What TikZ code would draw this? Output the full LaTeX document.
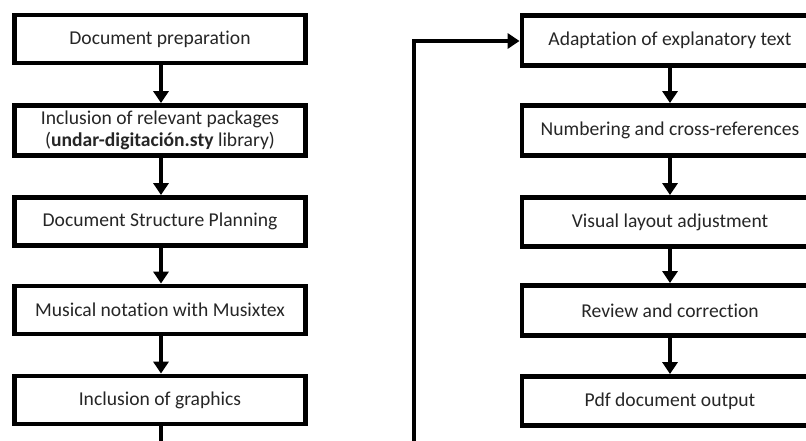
\documentclass[tikz,border=0pt]{standalone}
\usepackage{fontspec}
\setmainfont{Carlito}[Ligatures=NoCommon]
\usetikzlibrary{arrows.meta}
\begin{document}
\begin{tikzpicture}[x=1pt,y=-1pt,
  stepbox/.style={draw=black,line width=4.8pt,fill=white,minimum height=48pt,
    inner sep=0pt,align=center,font=\fontsize{19.6}{22}\selectfont,text=black!85},
  leftbox/.style={stepbox,minimum width=291pt},
  rightbox/.style={stepbox,minimum width=296pt},
  flow/.style={line width=4.5pt,-{Triangle[width=15pt,length=12pt]}}]
\useasboundingbox (0,0) rectangle (806,441);
\node[leftbox] (l1) at (160,39) {Document preparation};
\node[leftbox,minimum height=50pt] (l2) at (160,130.5) {Inclusion of relevant packages\\(\textbf{undar-digitación.sty} library)};
\node[leftbox] (l3) at (160,221.5) {Document Structure Planning};
\node[leftbox] (l4) at (160,310) {Musical notation with Musixtex};
\node[leftbox] (l5) at (160,400) {Inclusion of graphics};
\node[rightbox,minimum height=50pt] (r1) at (670,40.5) {Adaptation of explanatory text};
\node[rightbox,minimum height=50pt] (r2) at (670,130.5) {Numbering and cross-references};
\node[rightbox,minimum height=49pt] (r3) at (670,222) {Visual layout adjustment};
\node[rightbox,minimum height=50pt] (r4) at (670,310.5) {Review and correction};
\node[rightbox,minimum height=49pt] (r5) at (670,401) {Pdf document output};
\coordinate (down) at (161,470);
\coordinate (up) at (414,470);
\coordinate (turn) at (414,41);
\draw[flow] (l1.south -| 161,0) -- (l2.north -| 161,0);
\draw[flow] (l2.south -| 161,0) -- (l3.north -| 161,0);
\draw[flow] (l3.south -| 161,0) -- (l4.north -| 161,0);
\draw[flow] (l4.south -| 161,0) -- (l5.north -| 161,0);
\draw[flow] (l5.south -| 161,0) -- (down) -- (up) -- (turn) -- (r1.west |- turn);
\draw[flow] (r1.south) -- (r2.north);
\draw[flow] (r2.south) -- (r3.north);
\draw[flow] (r3.south) -- (r4.north);
\draw[flow] (r4.south) -- (r5.north);
\end{tikzpicture}
\end{document}
